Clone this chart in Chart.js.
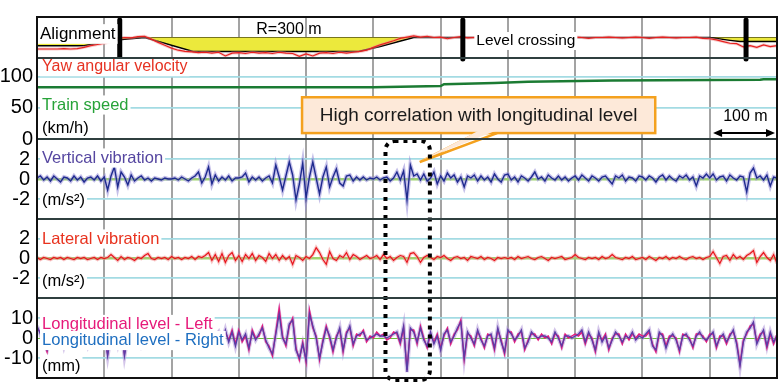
<!DOCTYPE html>
<html>
<head>
<meta charset="utf-8">
<script src="https://cdn.jsdelivr.net/npm/chart.js@4.4.1/dist/chart.umd.min.js"></script>
<style>
html, body { margin: 0; padding: 0; background: #fff; }
#container { width: 784px; height: 386px; }
</style>
</head>
<body>
<div id="container"><canvas id="canvas" width="784" height="386"></canvas></div>
<script>
//距離 (m)
var STEP = 5;        //振動・軌道の取得間隔
var YAW_STEP = 10;   //ヨー角速度の間隔

//上下振動 (m/s2)
var vertVib = [
    0.1,0.3,-0.1,0.2,-0.2,0.3,0,-0.3,0.2,0.1,-0.2,0.3,-0.1,0.2,-0.3,0.1,0.2,-0.1,0.3,-0.2,
    0.2,-1.1,0.3,1.2,-0.8,0.7,0.2,-0.6,0.4,-0.2,0.1,0.3,-0.1,0.1,-0.2,0.1,0,-0.1,0.1,0,
    0,0.1,-0.1,0.2,0,-0.2,0.1,0.3,0.7,-0.4,0.2,1.2,-0.5,0.4,-0.2,0.2,-0.1,0.3,-0.2,0.1,
    0.1,0.2,0.6,-0.3,0.2,-0.1,0.2,-0.2,0.1,0.3,-0.4,1.4,0.2,-1.1,0.3,1.7,0.4,-2.1,-0.5,1.6,
    -1.9,0.2,1.7,0.1,-1.5,0.2,1.2,-0.8,0.2,1.0,-0.4,-0.7,0.3,0.4,-0.2,0.2,-0.1,0.2,-0.1,0.1,
    0,0.2,-0.1,0.1,0.2,-0.2,0.1,0.7,-0.1,0.8,-2.1,1.4,0.3,0.5,-0.1,0.5,-0.2,0.1,0.7,-0.5,
    0.3,-0.2,0.6,0.1,0.4,-0.3,0.2,-0.8,0.3,0.1,0.4,-0.2,0.3,-0.1,0.2,-0.3,0.5,0,-0.3,0.4,
    0.5,-0.1,0.2,-0.3,0.3,0.1,-0.2,0.2,0.7,0,0.2,-0.2,0.4,0.1,-0.1,0.3,-0.1,0.2,-0.2,0.1,
    0.3,-0.1,0.4,0.1,-0.2,0.3,0.1,-0.2,0.2,0.3,-0.1,-0.5,0.3,0.1,0.4,-0.2,0.2,0.1,-0.2,0.3,
    0.2,-0.1,0.3,0.1,-0.3,0.2,0.4,-0.1,0.3,0,-0.2,0.3,0.1,0.4,-0.1,0.2,-0.7,0.3,0.1,0.5,
    0.1,0.5,-0.1,0.2,0.3,-0.2,0.4,0.1,-0.1,0.3,0.2,-1.3,0.6,1.1,0.1,0.3,-0.1,0.4,-0.7,0.2,0.1
];

//左右振動 (m/s2)
var latVib = [
    0.1,-0.1,0.1,0,-0.1,0.1,0,0.1,-0.1,0.1,0,-0.1,0.1,0,0.1,-0.1,0,0.1,-0.1,0.1,
    0,0.1,0.4,0.1,-0.2,0.2,-0.1,0.1,0,-0.2,0.1,0,0.3,0.5,0,-0.1,0.1,0,0.1,-0.1,
    0.2,0,0.1,-0.1,0.1,0,0.2,-0.1,0.2,0.1,0.3,0.6,-0.2,0.4,-0.3,0.5,-0.4,0.3,0.6,-0.2,
    0.3,-0.3,0.4,0,0.5,-0.2,0.3,0.1,-0.3,0.5,0,0.4,-0.2,0.3,-0.1,0.2,-0.6,0.3,0.1,-0.2,
    0.2,0,0.4,1.1,0.6,-0.1,-0.6,0.7,0,-0.2,0.3,0.1,0.6,-0.1,0.4,0.2,-0.1,0.1,0.3,0,
    0.1,0.3,-0.1,0.4,0,0.2,-0.2,0.1,0.3,0.2,-0.4,0.5,0.6,0.2,-0.4,0.1,0.3,0.1,-0.1,0.2,
    0.1,0.3,0,-0.2,0.1,0.2,0,0.1,-0.2,0.2,0.1,0,0.2,-0.1,0.1,0,-0.2,0.1,0,0.1,
    0,0.1,-0.1,0.2,0,0.1,0.2,0,-0.1,0.1,0.2,0,-0.2,0.1,0,0.1,0.2,-0.1,0,0.1,
    0.4,0.1,0,-0.1,0.1,0,0.1,-0.1,0.2,0,0.1,0.4,0.1,0,-0.1,0.1,0,0.2,-0.1,0,
    0.1,-0.1,0.2,0,-0.2,0.1,0,0.2,-0.1,0.1,0,0.2,0,-0.1,0.1,0.2,0,0.1,-0.1,0.1,
    0.2,0.7,0.1,-0.5,0.2,0.3,-0.2,0.4,0,0.2,-0.1,0.3,0.5,0.8,-0.4,0.2,0.6,0.1,-0.2,0.4,-0.5
];

//高低 左 (mm)
var longLeft = [
    5,3,-2,-7,2,3,-3,4,-3,1,6,-2,-2,4,-1,-3,3,3,-1,2,
    2,-8,3,3,-4,4,-8,2,2,-3,5,-2,1,-2,4,-1,2,1,-2,2,
    1,-3,4,0,3,-2,2,1,-3,4,0,1,-2,2,2,-3,3,-1,4,-3,
    4,-2,1,-6,4,0,1,6,-2,-4,-9,3,15,1,-4,6,10,-5,-11,-2,
    -12,14,5,1,-11,-1,6,0,-7,1,4,-7,3,5,-4,2,1,4,-2,1,
    0,3,1,2,-1,0,3,2,-3,5,-16,4,4,-3,6,0,-5,2,-2,2,
    -5,1,5,-3,2,4,9,-11,2,1,-4,3,0,-5,2,1,-6,4,-1,-8,
    3,3,-2,2,3,-6,-1,2,2,-1,2,0,1,-3,2,1,-5,2,0,1,
    2,1,3,-3,2,0,-7,2,-1,2,-6,0,2,2,-3,2,-1,2,0,2,
    1,1,3,-3,-7,2,2,-4,1,1,0,-7,2,1,0,-5,2,2,1,-2,
    2,2,-5,1,1,-3,2,3,-2,-13,-1,2,6,7,-2,2,3,-5,2,-3,2
];

//高低 右 (mm)
var longRight = [
    6,2,-3,-6,1,4,-2,3,-4,2,5,-1,-3,3,0,-4,2,4,-2,1,
    3,-9,2,4,-3,5,-9,1,3,-2,4,-3,2,-1,3,-2,1,2,-3,1,
    2,-2,3,-1,4,-3,1,2,-2,3,-1,2,-3,1,3,-2,4,-2,3,-4,
    3,-1,2,-5,3,-1,2,5,-1,-5,-8,2,12,0,-3,7,9,-6,-10,-3,
    -11,12,6,0,-10,-2,5,1,-6,0,5,-6,2,6,-3,1,2,3,-1,0,
    1,2,1,1,0,1,2,3,-2,6,-17,5,3,-2,5,-1,-4,3,-3,1,
    -6,2,4,-2,1,5,8,-10,3,0,-3,4,-1,-4,1,2,-5,5,-2,-7,
    4,2,-1,1,4,-5,-2,3,1,0,1,1,0,-2,3,0,-4,1,1,0,
    1,2,4,-2,3,-1,-6,3,-2,1,-5,-1,3,1,-2,1,0,3,-1,1,
    0,2,4,-4,-6,3,1,-5,0,2,-1,-6,1,2,-1,-4,1,3,0,-1,
    1,3,-4,0,2,-2,1,4,-3,-14,-2,3,5,8,-3,1,4,-4,3,-2,1
];

//ヨー角速度 (線形の目盛)
var yawRate = [
    -2.8,-2.8,-2.8,-2.8,-2.7,-2.8,-2.7,-2.4,-2.0,-1.7,
    -1.4,-1.0,-0.3,0,-0.1,0.2,0.3,-0.4,-1.2,-1.9,
    -2.6,-3.1,-3.4,-3.5,-3.7,-3.6,-3.8,-3.6,-4.5,-3.8,
    -3.7,-3.9,-3.6,-3.8,-3.7,-3.9,-3.6,-3.8,-3.9,-4.6,
    -4.0,-4.5,-3.8,-3.7,-3.9,-3.6,-3.8,-3.6,-3.4,-3.1,
    -2.4,-1.8,-1.3,-0.8,-0.2,0.1,0.4,0.1,0.3,0,
    0.1,-0.3,0,0.2,-0.1,0,0.1,-0.2,0,0.1,
    0,0,-0.1,0,-0.3,0,0.1,0,-0.1,0,
    0.1,0,-0.2,0,0,0.1,0,-0.1,0,0.1,
    0,-0.2,0,0.1,0,-0.1,0,0,0.1,-0.2,
    -0.3,-0.6,-1.0,-1.4,-1.5,-2.3,-2.0,-2.4,-1.8,-2.2,-2.0
];

//線形 (曲率)
var alignDist = [0, 70, 118, 160, 232, 478, 510, 560, 1000, 1030, 1045, 1100];
var alignValue = [-2, -2, -0.6, 0, -3.4, -3.4, -2.2, 0, 0, -0.7, -1, -1];

//列車速度 (km/h)
var speedDist = [0, 500, 600, 605, 680, 730, 855, 1075, 1080, 1100];
var speedValue = [83, 83, 85, 88, 90, 92, 94, 95, 96, 96];

//踏切位置 (m)
var crossingDist = [123, 633, 1054];

//目盛
var speedTicks = [0, 50, 100];
var vibTicks = [-2, 0, 2];
var levelTicks = [-10, 0, 10];

var FONT = '"Liberation Sans", Arial, sans-serif';
var BLUE_GRID = '#a3dbe3';

//等間隔の配列を点に
function series(arr, step) {
    var pts = [];
    for (var i = 0; i < arr.length; i++)
        pts.push({x: i * step, y: arr[i]});
    return pts;
}

function pairs(xs, ys) {
    var pts = [];
    for (var i = 0; i < xs.length; i++)
        pts.push({x: xs[i], y: ys[i]});
    return pts;
}

//縦軸 (積み重ね)
function yAxis(min, max, ticks, weight, stackWeight, zeroColor, zeroWidth, showLabels, pad) {
    return {
        type: 'linear',
        position: 'left',
        stack: 'panels',
        stackWeight: stackWeight,
        weight: weight,
        min: min,
        max: max,
        afterBuildTicks: function(s) {
            s.ticks = ticks.map(function(v) { return {value: v}; });
        },
        afterFit: function(s) {
            s.width = 37;
            s.paddingTop = 0;
            s.paddingBottom = 0;
        },
        border: {display: true, color: '#000', width: 2},
        grid: {
            drawTicks: false,
            color: function(c) {
                if (c.tick.value === 0) return zeroColor;
                return BLUE_GRID;
            },
            lineWidth: function(c) {
                return c.tick.value === 0 ? zeroWidth : 1.8;
            }
        },
        ticks: {
            display: showLabels,
            autoSkip: false,
            padding: pad,
            color: '#000',
            font: {family: FONT, size: 20},
            callback: function(v) { return String(v); }
        }
    };
}

function lineSet(data, axis, color, width) {
    return {
        data: data,
        yAxisID: axis,
        borderColor: color,
        borderWidth: width,
        pointRadius: 0,
        tension: 0,
        fill: false
    };
}

//文字 (白背景)
function drawLabel(ctx, text, x, y, color, size, bg) {
    ctx.font = size + 'px ' + FONT;
    ctx.textAlign = 'left';
    ctx.textBaseline = 'middle';
    var w = ctx.measureText(text).width;
    if (bg) {
        ctx.fillStyle = '#fff';
        ctx.fillRect(x - 2, y - size * 0.58, w + 4, size * 1.16);
    }
    ctx.fillStyle = color;
    ctx.fillText(text, x, y);
}

var decorPlugin = {
    id: 'decor',
    afterDatasetsDraw: function(chart) {
        var ctx = chart.ctx;
        var ca = chart.chartArea;
        var xs = chart.scales.x;
        var ya = chart.scales.yAlign, ysp = chart.scales.ySpeed;
        var yv = chart.scales.yVert, yl = chart.scales.yLat, yg = chart.scales.yLong;
        var lx = ca.left + 5;
        ctx.save();

        //踏切
        ctx.strokeStyle = '#000';
        ctx.lineWidth = 5;
        ctx.lineCap = 'round';
        crossingDist.forEach(function(d) {
            var px = xs.getPixelForValue(d);
            ctx.beginPath();
            ctx.moveTo(px, ya.top + 3);
            ctx.lineTo(px, ya.bottom + 1);
            ctx.stroke();
        });
        ctx.lineCap = 'butt';

        //各段のラベル
        drawLabel(ctx, 'Alignment', lx - 2, ya.top + 17, '#000', 17, true);
        drawLabel(ctx, 'R=300 m', xs.getPixelForValue(326), ya.top + 12.5, '#000', 16, false);
        drawLabel(ctx, 'Level crossing', xs.getPixelForValue(653), ya.top + 24, '#000', 15.5, true);
        drawLabel(ctx, 'Yaw angular velocity', lx, ysp.top + 9, '#e63222', 16, true);
        drawLabel(ctx, 'Train speed', lx, ysp.top + 47, '#27a339', 16.5, true);
        drawLabel(ctx, '(km/h)', lx, ysp.top + 70, '#000', 16.5, true);
        drawLabel(ctx, 'Vertical vibration', lx, yv.top + 19, '#5546a0', 16.5, true);
        drawLabel(ctx, '(m/s²)', lx, yv.top + 61, '#000', 16.5, true);
        drawLabel(ctx, 'Lateral vibration', lx, yl.top + 20, '#e8321e', 16.5, true);
        drawLabel(ctx, '(m/s²)', lx, yl.top + 62, '#000', 16.5, true);
        drawLabel(ctx, 'Longitudinal level - Left', lx, yg.top + 26.5, '#e6197a', 16.6, true);
        drawLabel(ctx, 'Longitudinal level - Right', lx, yg.top + 42.5, '#1f6fc0', 16.6, true);
        drawLabel(ctx, '(mm)', lx, yg.top + 68, '#000', 16.5, true);

        //吹き出し
        var bx1 = xs.getPixelForValue(394), bx2 = xs.getPixelForValue(919);
        var by1 = ysp.getPixelForValue(67), by2 = ysp.getPixelForValue(9.5);
        var tipX = xs.getPixelForValue(569), tipY = yv.getPixelForValue(1.7);
        var b1 = xs.getPixelForValue(654), b2 = xs.getPixelForValue(684);
        ctx.fillStyle = '#fde9d9';
        ctx.strokeStyle = '#f4a11e';
        ctx.lineWidth = 2.5;
        ctx.fillRect(bx1, by1, bx2 - bx1, by2 - by1);
        ctx.strokeRect(bx1, by1, bx2 - bx1, by2 - by1);
        ctx.beginPath();
        ctx.moveTo(b1, by2);
        ctx.lineTo(tipX, tipY);
        ctx.lineTo(b2, by2);
        ctx.stroke();
        ctx.beginPath();
        ctx.moveTo(b1 + 1, by2 - 2);
        ctx.lineTo(tipX + 2, tipY - 2);
        ctx.lineTo(b2 - 2, by2 - 2);
        ctx.closePath();
        ctx.fill();
        ctx.font = '19px ' + FONT;
        ctx.textAlign = 'center';
        ctx.textBaseline = 'middle';
        ctx.fillStyle = '#1a1a1a';
        ctx.fillText('High correlation with longitudinal level', (bx1 + bx2) / 2, (by1 + by2) / 2 + 1);

        //点線の枠
        var rx1 = xs.getPixelForValue(518), rx2 = xs.getPixelForValue(584);
        ctx.strokeStyle = '#000';
        ctx.lineWidth = 4;
        ctx.setLineDash([4, 5]);
        ctx.beginPath();
        ctx.roundRect(rx1, yv.top + 2, rx2 - rx1, ca.bottom + 2 - yv.top - 2, 9);
        ctx.stroke();
        ctx.setLineDash([]);

        //100 m スケール
        var sx1 = xs.getPixelForValue(1005), sx2 = xs.getPixelForValue(1097);
        var sy = ysp.top + 75;
        ctx.font = '16px ' + FONT;
        ctx.textAlign = 'center';
        ctx.fillStyle = '#000';
        ctx.fillText('100 m', xs.getPixelForValue(1053), ysp.top + 59);
        ctx.lineWidth = 2;
        ctx.beginPath();
        ctx.moveTo(sx1 + 4, sy);
        ctx.lineTo(sx2 - 4, sy);
        ctx.stroke();
        ctx.beginPath();
        ctx.moveTo(sx1, sy); ctx.lineTo(sx1 + 9, sy - 4); ctx.lineTo(sx1 + 9, sy + 4); ctx.closePath();
        ctx.moveTo(sx2, sy); ctx.lineTo(sx2 - 9, sy - 4); ctx.lineTo(sx2 - 9, sy + 4); ctx.closePath();
        ctx.fill();

        ctx.restore();
    },
    afterDraw: function(chart) {
        var ctx = chart.ctx;
        var ca = chart.chartArea;
        var s = chart.scales;
        ctx.save();
        //段の区切り
        ctx.strokeStyle = '#2f3f3f';
        ctx.lineWidth = 2;
        [s.yAlign.bottom, s.ySpeed.bottom, s.yVert.bottom, s.yLat.bottom].forEach(function(y) {
            ctx.beginPath();
            ctx.moveTo(ca.left, y);
            ctx.lineTo(ca.right, y);
            ctx.stroke();
        });
        //外枠
        ctx.strokeStyle = '#111';
        ctx.strokeRect(ca.left, ca.top, ca.right - ca.left, ca.bottom - ca.top);
        ctx.restore();
    }
};

var datasets = [
    lineSet(series(longRight, STEP), 'yLong', '#5b3ca6', 1.4),
    lineSet(series(longLeft, STEP), 'yLong', '#e8177a', 1.4),
    lineSet(series(longRight, STEP), 'yLong', 'rgba(175,150,215,0.55)', 4),
    lineSet(series(vertVib, STEP), 'yVert', '#1f2b8f', 1.4),
    lineSet(series(vertVib, STEP), 'yVert', 'rgba(150,140,215,0.55)', 4),
    lineSet(series(latVib, STEP), 'yLat', '#e8141c', 1.2),
    lineSet(series(latVib, STEP), 'yLat', 'rgba(240,140,140,0.5)', 3.5),
    lineSet(pairs(speedDist, speedValue), 'ySpeed', '#1b7b33', 2.5),
    lineSet(series(yawRate, YAW_STEP), 'yAlign', '#e8201f', 1.2),
    lineSet(series(yawRate, YAW_STEP), 'yAlign', 'rgba(240,150,150,0.5)', 3),
    {
        data: pairs(alignDist, alignValue),
        yAxisID: 'yAlign',
        borderColor: '#000',
        borderWidth: 1.5,
        backgroundColor: '#ece93c',
        pointRadius: 0,
        tension: 0,
        fill: {value: 0}
    }
];

var ctx = document.getElementById('canvas').getContext('2d');

window.myChart = new Chart(ctx, {
    type: 'line',
    data: {datasets: datasets},
    plugins: [decorPlugin],
    options: {
        responsive: false,
        animation: false,
        layout: {padding: {top: 17, right: 7, bottom: 8, left: 0}},
        plugins: {legend: {display: false}, tooltip: {enabled: false}},
        scales: {
            x: {
                type: 'linear',
                min: 0,
                max: 1100,
                ticks: {display: false, stepSize: 100},
                grid: {color: '#a3a3a3', lineWidth: 2, drawTicks: false},
                border: {display: false},
                afterFit: function(s) {
                    s.height = 0;
                    s.paddingLeft = 0;
                    s.paddingRight = 0;
                }
            },
            yAlign: yAxis(-5, 5, [0], 5, 41, '#000', 1, false, 4),
            ySpeed: yAxis(0, 130, speedTicks, 4, 81, 'rgba(0,0,0,0)', 0, true, 4),
            yVert: yAxis(-4, 4, vibTicks, 3, 80, '#9ed36f', 2.5, true, 7),
            yLat: yAxis(-4, 4, vibTicks, 2, 79, '#9ed36f', 2.5, true, 7),
            yLong: yAxis(-20, 20, levelTicks, 1, 80, '#6cbf3a', 1, true, 4)
        }
    }
});
</script>
</body>
</html>
